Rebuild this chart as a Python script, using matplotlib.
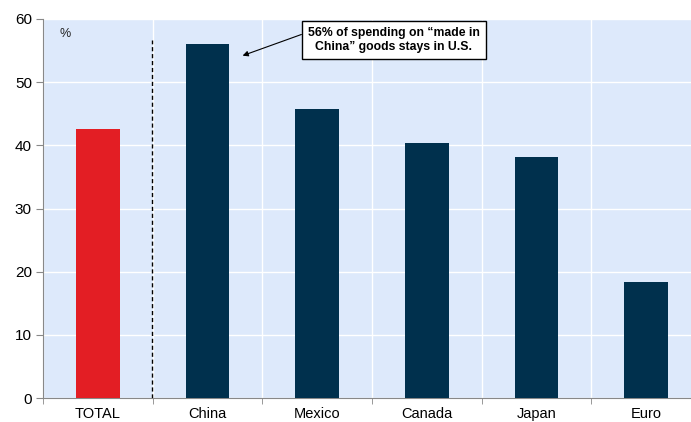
import matplotlib
matplotlib.use("Agg")
import matplotlib.pyplot as plt
import numpy as np

plt.rcParams["font.family"] = ["Liberation Sans", "DejaVu Sans"]

categories = ["TOTAL", "China", "Mexico", "Canada", "Japan", "Euro"]
share_us = [42.6, 56.0, 45.7, 40.3, 38.2, 18.3]
bar_colors = ["#e31e24", "#00304d", "#00304d", "#00304d", "#00304d", "#00304d"]
yticks = [0, 10, 20, 30, 40, 50, 60]
note = "56% of spending on \u201cmade in\nChina\u201d goods stays in U.S."

fig = plt.figure(figsize=(6.91, 4.22), dpi=100)
ax = fig.add_axes([43 / 691, 24 / 422, 658 / 691, 379 / 422])
ax.set_facecolor("#dde9fb")

x = np.arange(len(categories))
ax.bar(x, share_us, width=0.4, color=bar_colors, zorder=3)

ax.set_xlim(-0.5, len(categories) - 0.5)
ax.set_ylim(0, 60)
ax.set_yticks(yticks)
ax.set_yticklabels([str(t) for t in yticks], fontsize=11)

# category labels centred, tick marks on the boundaries
ax.set_xticks(x)
ax.set_xticklabels(categories, fontsize=10.5)
ax.tick_params(axis="x", length=0, pad=6.5)
ax.set_xticks(np.arange(len(categories) + 1) - 0.5, minor=True)
ax.tick_params(axis="x", which="minor", length=4, color="#888888")
ax.tick_params(axis="y", length=5, color="#888888", pad=3)

ax.grid(axis="y", color="white", lw=1.0, zorder=1)
ax.grid(axis="x", which="minor", color="white", lw=1.0, zorder=1)
for s in ["top", "right"]:
    ax.spines[s].set_visible(False)
for s in ["left", "bottom"]:
    ax.spines[s].set_color("#888888")

# separator between the total and the individual sources
ax.plot([0.49, 0.49], [0, 56.6], color="black",
        lw=1, ls=(0, (3, 2)), zorder=4)

ax.text(0.025, 0.975, "%", transform=ax.transAxes, fontsize=9,
        ha="left", va="top", color="#222222")

ax.annotate(note, xy=(1.32, 54.2), xytext=(2.70, 56.7),
            ha="center", va="center", fontsize=8.8, fontweight="bold",
            bbox=dict(boxstyle="square,pad=0.5", fc="white", ec="black", lw=1),
            arrowprops=dict(arrowstyle="-|>", color="black", lw=0.8,
                            mutation_scale=8, shrinkA=0, shrinkB=0,
                            relpos=(0, 0.8)),
            zorder=5)

fig.savefig("out.png", dpi=100)
